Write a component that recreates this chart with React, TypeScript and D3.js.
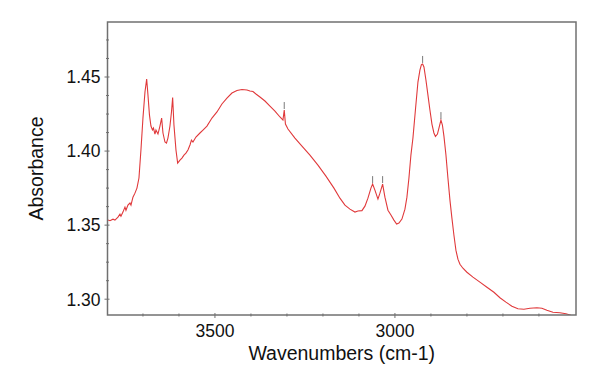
import React from "react";
import * as d3 from "d3";

const wavenumbers: number[] = [
  3797, 3791.7, 3783.3, 3777.8, 3769.4, 3763.9, 3761.1, 3755.6, 3750, 3747.2,
  3741.7, 3736.1, 3733.3, 3727.8, 3722.2, 3716.7, 3711.1, 3705.6, 3700, 3694.4,
  3689.7, 3686.1, 3681.9, 3677.8, 3673.6, 3670.8, 3666.7, 3663.9, 3658.3, 3652.8,
  3648.1, 3644.4, 3638.9, 3634.7, 3630.6, 3625, 3620.8, 3617.5, 3613.9, 3608.3,
  3603.6, 3597.2, 3591.7, 3586.1, 3580.6, 3575, 3569.4, 3565.3, 3561.1, 3552.8,
  3541.7, 3533.3, 3522.2, 3508.3, 3494.4, 3480.6, 3466.7, 3452.8, 3438.9, 3425,
  3411.1, 3402.8, 3394.4, 3386.1, 3375, 3361.1, 3347.2, 3333.3, 3319.4, 3311.1,
  3307.5, 3304.2, 3297.2, 3277.8, 3258.3, 3236.1, 3213.9, 3191.7, 3169.4, 3152.8,
  3138.9, 3125, 3111.1, 3102.8, 3091.7, 3083.3, 3075, 3066.7, 3062, 3055.6,
  3047.2, 3041.7, 3034.2, 3027.8, 3019.4, 3011.1, 3002.8, 2995.3, 2988.9, 2980.6,
  2972.2, 2966.7, 2961.1, 2955.6, 2950, 2943.1, 2936.1, 2930.6, 2926.4, 2923.1,
  2919.4, 2913.9, 2908.3, 2902.8, 2897.2, 2891.7, 2887.5, 2881.9, 2876.4, 2872.2,
  2868.1, 2863.9, 2858.3, 2852.8, 2847.2, 2841.7, 2836.1, 2830.6, 2825, 2819.4,
  2811.1, 2800, 2783.3, 2763.9, 2744.4, 2725, 2708.3, 2691.7, 2675, 2658.3,
  2641.7, 2625, 2605.6, 2591.7, 2577.8, 2561.1, 2541.7, 2525, 2511.1, 2497.2,
];

const absorbance: number[] = [
  1.3534, 1.353, 1.354, 1.3534, 1.3554, 1.3574, 1.356, 1.3588, 1.3622, 1.36,
  1.3635, 1.3649, 1.3635, 1.3689, 1.3716, 1.375, 1.3818, 1.4007, 1.4223, 1.4399,
  1.4486, 1.4378, 1.4243, 1.4169, 1.4142, 1.4155, 1.4115, 1.4142, 1.4115, 1.4169,
  1.4223, 1.4122, 1.4061, 1.4054, 1.4088, 1.4169, 1.4264, 1.4361, 1.4176, 1.4007,
  1.3919, 1.3939, 1.3953, 1.3973, 1.3986, 1.4007, 1.4041, 1.4074, 1.4061, 1.4095,
  1.4122, 1.4142, 1.4169, 1.4223, 1.4264, 1.4318, 1.4358, 1.4392, 1.4409, 1.4416,
  1.4412, 1.4405, 1.4402, 1.4385, 1.4365, 1.4338, 1.4304, 1.427, 1.423, 1.4209,
  1.4277, 1.4182, 1.4149, 1.4088, 1.4034, 1.3973, 1.3905, 1.3831, 1.375, 1.3682,
  1.3635, 1.3608, 1.3588, 1.3595, 1.3598, 1.3628, 1.3682, 1.375, 1.3777, 1.3736,
  1.3676, 1.3716, 1.3777, 1.3689, 1.3601, 1.3568, 1.3534, 1.3507, 1.3514, 1.3541,
  1.3608, 1.3689, 1.3818, 1.3973, 1.4088, 1.4277, 1.4466, 1.4547, 1.4584, 1.4588,
  1.4568, 1.448, 1.4378, 1.4277, 1.4182, 1.4122, 1.4098, 1.4115, 1.4169, 1.4209,
  1.4176, 1.4101, 1.3973, 1.3818, 1.3669, 1.3547, 1.3432, 1.3331, 1.327, 1.3236,
  1.3209, 1.3182, 1.3149, 1.3115, 1.3081, 1.3047, 1.301, 1.298, 1.2953, 1.2936,
  1.2932, 1.2939, 1.2942, 1.2939, 1.2926, 1.2912, 1.2909, 1.2902, 1.2892, 1.2889,
];

const peakWavenumbers: number[] = [3307.5, 3062, 3034.2, 2923.1, 2872.2];
const peakValues: number[] = [1.4277, 1.3777, 1.3777, 1.4588, 1.4209];

const xTicks: number[] = [3500, 3000];
const yTicks: number[] = [1.3, 1.35, 1.4, 1.45];
const xMinorTicks: number[] = [3700, 3600, 3400, 3300, 3200, 3100, 2900, 2800, 2700, 2600];
const yMinorTicks: number[] = [1.3125, 1.325, 1.3375, 1.3625, 1.375, 1.3875, 1.4125, 1.425, 1.4375, 1.4625, 1.475];

const W = 609;
const H = 377;
const left = 107.5;
const right = 576;
const top = 22;
const bottom = 315;

export default function App() {
  const x = d3.scaleLinear().domain([3798.5, 2497]).range([left, right]);
  const y = d3.scaleLinear().domain([1.30, 1.45]).range([299.2, 77]);
  const pts = wavenumbers.map((w, i) => [w, absorbance[i]] as [number, number]);
  const line = d3
    .line<[number, number]>()
    .x((d) => x(d[0]))
    .y((d) => y(d[1]));
  const font = "'Liberation Sans', Arial, sans-serif";
  const axisColor = "#707070";
  return (
    <svg
      width={W}
      height={H}
      style={{ position: "absolute", left: 0, top: 0, background: "#fff" }}
    >
      <defs>
        <clipPath id="plot">
          <rect x={left} y={top} width={right - left} height={bottom - top} />
        </clipPath>
      </defs>
      <g clipPath="url(#plot)">
        <path d={line(pts) || ""} fill="none" stroke="#e0393b" strokeWidth={1.1} />
        {peakWavenumbers.map((w, i) => (
          <line
            key={i}
            x1={x(w)}
            x2={x(w)}
            y1={y(peakValues[i]) - 1}
            y2={y(peakValues[i]) - 8}
            stroke="#7a7a7a"
            strokeWidth={1}
          />
        ))}
      </g>
      <rect
        x={left}
        y={top}
        width={right - left}
        height={bottom - top}
        fill="none"
        stroke={axisColor}
        strokeWidth={1.5}
      />
      {xTicks.map((t) => (
        <g key={t}>
          <line x1={x(t)} x2={x(t)} y1={bottom - 2} y2={bottom + 3} stroke={axisColor} strokeWidth={1} />
          <text
            x={x(t)}
            y={337}
            textAnchor="middle"
            fontFamily={font}
            fontSize={17.5}
            fill="#111"
          >
            {t}
          </text>
        </g>
      ))}
      {xMinorTicks.map((t) => (
        <line key={t} x1={x(t)} x2={x(t)} y1={bottom - 1.5} y2={bottom + 1.5} stroke={axisColor} strokeWidth={1} />
      ))}
      {yTicks.map((t) => (
        <g key={t}>
          <line x1={left - 3} x2={left + 2} y1={y(t)} y2={y(t)} stroke={axisColor} strokeWidth={1} />
          <text
            x={100.5}
            y={y(t)}
            dy="0.36em"
            textAnchor="end"
            fontFamily={font}
            fontSize={17.5}
            fill="#111"
          >
            {t.toFixed(2)}
          </text>
        </g>
      ))}
      {yMinorTicks.map((t) => (
        <line key={t} x1={left - 1.5} x2={left + 1.5} y1={y(t)} y2={y(t)} stroke={axisColor} strokeWidth={1} />
      ))}
      <text
        x={(left + right) / 2}
        y={360}
        textAnchor="middle"
        fontFamily={font}
        fontSize={19.5}
        fill="#111"
      >
        Wavenumbers (cm-1)
      </text>
      <text
        transform={`translate(43, ${(top + bottom) / 2}) rotate(-90)`}
        textAnchor="middle"
        fontFamily={font}
        fontSize={19.5}
        fill="#111"
      >
        Absorbance
      </text>
    </svg>
  );
}
